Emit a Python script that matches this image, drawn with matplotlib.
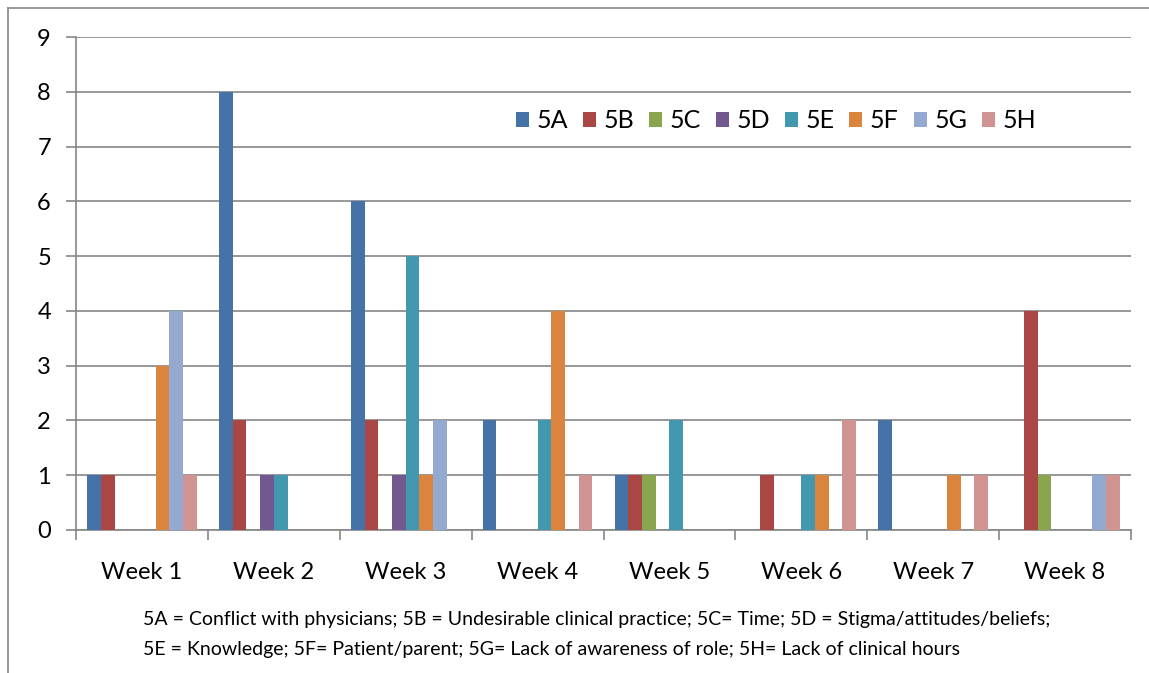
import numpy as np
import matplotlib

matplotlib.use("Agg")
import matplotlib.pyplot as plt
from matplotlib.lines import Line2D

plt.rcParams["font.family"] = ["Lato", "DejaVu Sans"]

weeks = ["Week 1", "Week 2", "Week 3", "Week 4", "Week 5", "Week 6", "Week 7", "Week 8"]
series = ["5A", "5B", "5C", "5D", "5E", "5F", "5G", "5H"]
v_5a = [1, 8, 6, 2, 1, 0, 2, 0]
v_5b = [1, 2, 2, 0, 1, 1, 0, 4]
v_5c = [0, 0, 0, 0, 1, 0, 0, 1]
v_5d = [0, 1, 1, 0, 0, 0, 0, 0]
v_5e = [0, 1, 5, 2, 2, 1, 0, 0]
v_5f = [3, 0, 1, 4, 0, 1, 1, 0]
v_5g = [4, 0, 2, 0, 0, 0, 0, 1]
v_5h = [1, 0, 0, 1, 0, 2, 1, 1]
values = [v_5a, v_5b, v_5c, v_5d, v_5e, v_5f, v_5g, v_5h]
colors = ["#4572A7", "#AA4643", "#89A54E", "#71588F",
          "#4198AF", "#DB843D", "#93A9CF", "#D19392"]
footnote = [
    "5A = Conflict with physicians; 5B = Undesirable clinical practice; 5C= Time; 5D = Stigma/attitudes/beliefs;",
    "5E = Knowledge; 5F= Patient/parent; 5G= Lack of awareness of role; 5H= Lack of clinical hours",
]

W, H = 1149, 673
fig = plt.figure(figsize=(W / 100, H / 100), dpi=100)
ax = fig.add_axes([76 / W, 1 - 530 / H, (1131 - 76) / W, (530 - 37) / H])

grey = "#868686"
width = 0.104
offset0 = 0.5 - width * 4
x = np.arange(len(weeks))
for i, (name, vals, c) in enumerate(zip(series, values, colors)):
    ax.bar(x + offset0 + i * width, vals, width, align="edge",
           color=c, edgecolor="none", label=name, zorder=3)

ax.set_xlim(0, len(weeks))
ax.set_ylim(0, 9)
ax.set_yticks(range(10))
ax.yaxis.grid(True, color=grey, linewidth=1.2, zorder=0)
ax.set_axisbelow(True)

ax.set_xticks(x + 0.5)
ax.set_xticklabels(weeks)
ax.set_xticks(np.arange(len(weeks) + 1), minor=True)
ax.tick_params(axis="x", which="major", length=0, pad=23, labelsize=17)
ax.tick_params(axis="x", which="minor", length=7, width=1.2, color=grey, direction="out")
ax.tick_params(axis="y", length=7, width=1.2, color=grey, pad=11, labelsize=17)

for side in ("top", "right"):
    ax.spines[side].set_visible(False)
for side in ("left", "bottom"):
    ax.spines[side].set_color(grey)
    ax.spines[side].set_linewidth(1.2)

leg = fig.legend(loc="center", bbox_to_anchor=(776 / W, 1 - 121 / H), ncol=8,
                 frameon=False, fontsize=18, handlelength=0.52, handleheight=0.52,
                 handletextpad=0.3, columnspacing=0.6)

fig.text(143 / W, 1 - 620 / H, footnote[0], ha="left", va="center", fontsize=14)
fig.text(143 / W, 1 - 649 / H, footnote[1], ha="left", va="center", fontsize=14)

# outer chart border (cropped at right and bottom)
fig.add_artist(Line2D([8 / W, 1.0], [1 - 8 / H, 1 - 8 / H], color=grey, linewidth=1.2,
                      transform=fig.transFigure))
fig.add_artist(Line2D([8 / W, 8 / W], [0.0, 1 - 8 / H], color=grey, linewidth=1.2,
                      transform=fig.transFigure))

fig.savefig("out.png", dpi=100)
